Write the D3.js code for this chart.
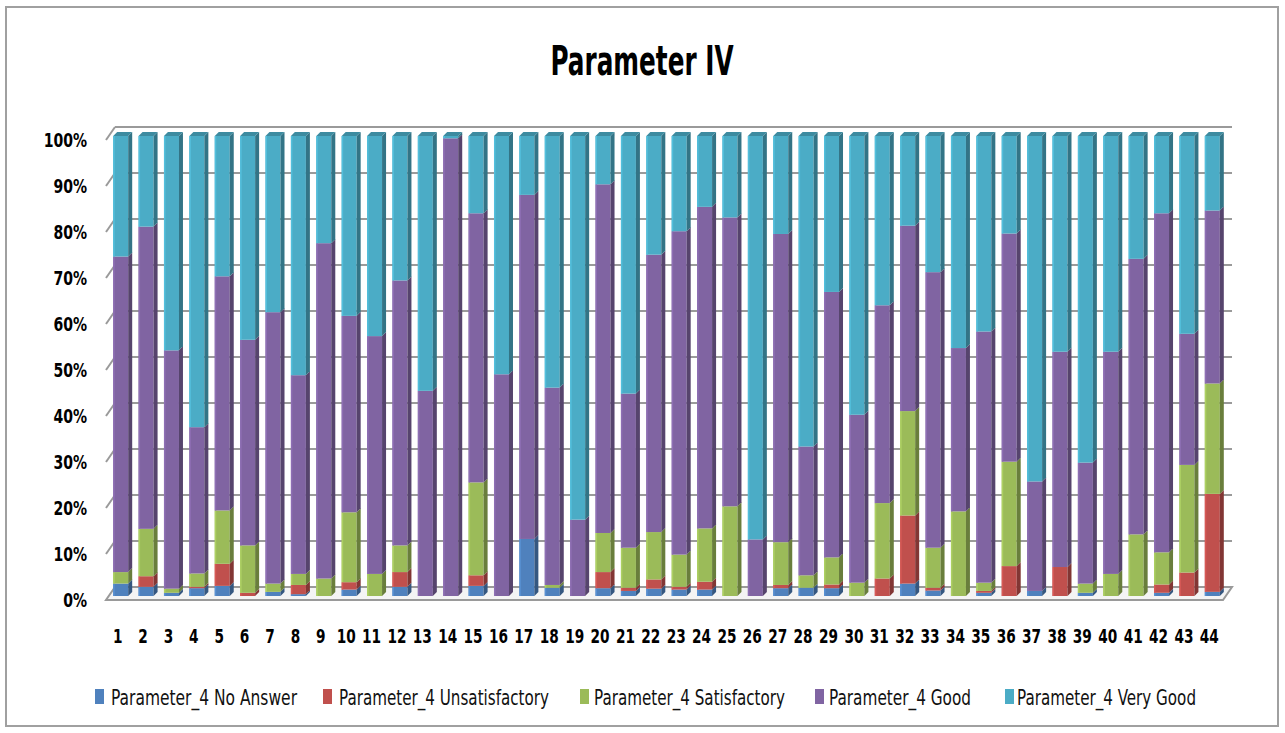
<!DOCTYPE html>
<html>
<head>
<meta charset="utf-8">
<script src="https://cdn.jsdelivr.net/npm/d3@7"></script>
<style>
  html, body { margin: 0; padding: 0; background: #fff; }
  svg { display: block; }
</style>
</head>
<body>
<svg id="chart" width="1285" height="733"></svg>
<script>
// ---------------- DATA ----------------
const categories = d3.range(1, 45).map(String);
const seriesNames = ["Parameter_4 No Answer", "Parameter_4 Unsatisfactory", "Parameter_4 Satisfactory", "Parameter_4 Good", "Parameter_4 Very Good"];
const noAnswer = [2.7,2.0,0.7,1.7,2.2,0,0.9,0.4,0,1.4,0,2.0,0,0,2.2,0,12.4,1.8,0,1.7,1.1,1.6,1.4,1.4,0,0,1.7,1.8,1.7,0,0,2.7,1.2,0,0.7,0,1.1,0,0.7,0,0,0.7,0,0.9];
const unsatisfactory = [0,2.3,0,0.3,4.8,0.7,0,2.0,0,1.6,0,3.2,0,0,2.3,0,0,0,0,3.5,0.7,2.0,0.6,1.7,0,0,0.7,0,0.8,0,3.8,14.8,0.6,0,0.4,6.5,0,6.3,0,0,0,1.8,5.1,21.3];
const satisfactory = [2.5,10.3,0.9,2.9,11.6,10.3,1.8,2.4,3.8,15.2,4.8,5.8,0,0,20.2,0,0,0.6,0,8.5,8.7,10.3,7.0,11.6,19.5,0,9.3,2.7,5.9,2.9,16.4,22.7,8.7,18.4,1.8,22.7,0,0,2.0,4.8,13.4,7.0,23.4,24.0];
const good = [68.6,65.7,51.8,31.8,50.9,44.7,59.0,43.2,72.9,42.7,51.7,57.6,44.6,99.5,58.5,48.2,74.8,42.9,16.6,75.8,33.5,60.3,70.3,69.9,62.8,12.3,67.0,28.0,57.7,36.5,43.0,40.3,59.9,35.5,54.6,49.6,23.8,46.8,26.3,48.3,59.9,73.7,28.5,37.6];
const veryGood = [26.2,19.7,46.6,63.3,30.5,44.3,38.3,52.0,23.3,39.1,43.5,31.4,55.4,0.5,16.8,51.8,12.8,54.7,83.4,10.5,56.0,25.8,20.7,15.4,17.7,87.7,21.3,67.5,33.9,60.6,36.8,19.5,29.6,46.1,42.5,21.2,75.1,46.9,71.0,46.9,26.7,16.8,43.0,16.2];
const yTicks = [0,0.1,0.2,0.3,0.4,0.5,0.6,0.7,0.8,0.9,1];
const colors = ["#4F81BD", "#C0504D", "#9BBB59", "#8064A2", "#4BACC6"];
const title = "Parameter IV";

// ---------------- LAYOUT ----------------
const svg = d3.select("#chart");
const FX0 = 106, FX1 = 1223;      // front plane x range
const DX = 9, DY = 13;             // wall depth offset
const BX = 2, BY = 4;              // bar front offset from front plane
const SX = 4, SY = 4;              // bar depth
const FONT = '"Liberation Sans Narrow", "DejaVu Sans Condensed", "Liberation Sans", sans-serif';

// squeeze text horizontally to mimic the narrow original font
function squeeze(sel, factor) {
  sel.each(function () {
    const w = this.getComputedTextLength();
    d3.select(this).attr("textLength", w * factor).attr("lengthAdjust", "spacingAndGlyphs");
  });
}

const rows = categories.map((c, i) => ({
  cat: c,
  k0: noAnswer[i], k1: unsatisfactory[i], k2: satisfactory[i], k3: good[i], k4: veryGood[i]
}));
const keys = ["k0","k1","k2","k3","k4"];
const stacked = d3.stack().keys(keys).offset(d3.stackOffsetExpand)(rows);

const x = d3.scaleBand().domain(categories).range([FX0, FX1]).paddingInner(0.409).paddingOuter(0.2045);
const y = d3.scaleLinear().domain([0, 1]).range([600, 140]);

// outer border
svg.append("rect").attr("x", 6).attr("y", 7).attr("width", 1272).attr("height", 719)
  .attr("fill", "#fff").attr("stroke", "#a0a0a0").attr("stroke-width", 2);

// title
svg.append("text").attr("x", 642).attr("y", 75)
  .attr("text-anchor", "middle").attr("font-family", FONT).attr("font-weight", "bold")
  .attr("font-size", 40).attr("textLength", 183).attr("lengthAdjust", "spacingAndGlyphs")
  .text(title);

// floor
const g = svg.append("g");
g.append("polygon")
  .attr("points", [[FX0, y(0)], [FX1, y(0)], [FX1 + DX, y(0) - DY], [FX0 + DX, y(0) - DY]].map(p => p.join(",")).join(" "))
  .attr("fill", "#f4f4f4").attr("stroke", "#9a9a9a").attr("stroke-width", 2);

// gridlines (back wall + side wall)
yTicks.filter(t => t > 0).forEach(t => {
  g.append("line").attr("x1", FX0 + DX).attr("x2", FX1 + DX)
    .attr("y1", y(t) - DY).attr("y2", y(t) - DY)
    .attr("stroke", "#9a9a9a").attr("stroke-width", 2);
  g.append("line").attr("x1", FX0).attr("y1", y(t))
    .attr("x2", FX0 + DX).attr("y2", y(t) - DY)
    .attr("stroke", "#9a9a9a").attr("stroke-width", 2);
});

// y labels
const yl = svg.append("g").selectAll("text").data(yTicks).join("text")
  .attr("font-family", FONT).attr("font-weight", "bold").attr("font-size", 20)
  .attr("x", 87).attr("y", d => y(d)).attr("dy", "0.36em").attr("text-anchor", "end")
  .text(d => d3.format(".0%")(d));
squeeze(yl, 0.78);

// x labels
const xl = svg.append("g").selectAll("text").data(categories).join("text")
  .attr("font-family", FONT).attr("font-weight", "bold").attr("font-size", 20)
  .attr("x", d => x(d) + x.bandwidth() / 2 - 1).attr("y", 643).attr("text-anchor", "middle")
  .text(d => d);
squeeze(xl, 0.76);

// bars
const bw = x.bandwidth();
const barsG = svg.append("g");
categories.forEach((c, i) => {
  const bx = x(c) + BX;
  let topSeg = null;
  stacked.forEach((s, si) => {
    const d = s[i];
    if (d[1] - d[0] <= 0) return;
    topSeg = { si, y1: d[1] };
    const yt = y(d[1]) - BY, yb = y(d[0]) - BY;
    const col = d3.color(colors[si]);
    // front
    barsG.append("rect").attr("x", bx).attr("y", yt).attr("width", bw).attr("height", Math.max(0, yb - yt))
      .attr("fill", col.formatHex());
    // left highlight
    barsG.append("rect").attr("x", bx).attr("y", yt).attr("width", 1.5).attr("height", Math.max(0, yb - yt))
      .attr("fill", col.brighter(0.3).formatHex());
    // side
    barsG.append("polygon")
      .attr("points", [[bx + bw, yt], [bx + bw + SX, yt - SY], [bx + bw + SX, yb - SY], [bx + bw, yb]].map(p => p.join(",")).join(" "))
      .attr("fill", col.darker(1.1).formatHex());
  });
  if (topSeg) {
    const yt = y(topSeg.y1) - BY;
    const col = d3.color(colors[topSeg.si]);
    barsG.append("polygon")
      .attr("points", [[bx, yt], [bx + bw, yt], [bx + bw + SX, yt - SY], [bx + SX, yt - SY]].map(p => p.join(",")).join(" "))
      .attr("fill", col.darker(0.6).formatHex());
  }
});

// legend
const legendItems = [
  { name: seriesNames[0], mx: 95, tx: 111, w: 186 },
  { name: seriesNames[1], mx: 323, tx: 339, w: 210 },
  { name: seriesNames[2], mx: 580, tx: 594, w: 191 },
  { name: seriesNames[3], mx: 815, tx: 829, w: 142 },
  { name: seriesNames[4], mx: 1005, tx: 1017, w: 179 }
];
const lg = svg.append("g");
legendItems.forEach((it, i) => {
  lg.append("rect").attr("x", it.mx).attr("y", 689).attr("width", 9).attr("height", 15).attr("fill", colors[i]);
  lg.append("text").attr("font-family", FONT).attr("font-size", 21)
    .attr("x", it.tx).attr("y", 705).attr("textLength", it.w).attr("lengthAdjust", "spacingAndGlyphs")
    .attr("fill", "#111").text(it.name);
});
</script>
</body>
</html>
